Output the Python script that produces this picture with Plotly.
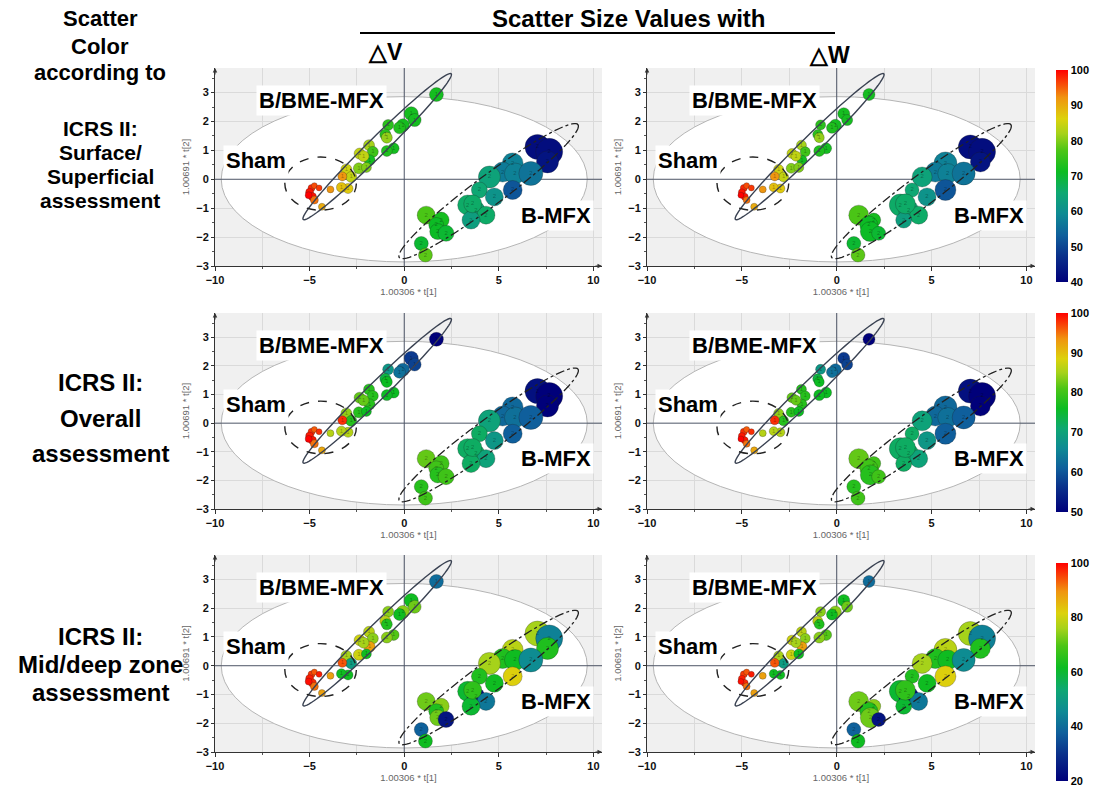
import numpy as np
import plotly.graph_objects as go

W, H = 1095, 788

# ---------------- data (PCA scores, sizes, colour scores) ----------------
# Sham group
sham_x = [-4.9, -5.0, -4.75, -4.85, -4.75, -5.05, -4.5, -4.35, -3.9]
sham_y = [-0.3, -0.45, -0.22, -0.6, -0.72, -0.55, -0.3, -0.95, -0.35]
sham_dv = [7, 8, 6, 8, 8, 7, 6, 7, 7]
sham_dw = [7, 7, 6, 7, 7, 6, 6, 7, 7]
sham_surface = [98, 99, 96, 99, 94, 100, 97, 90, 92]
sham_overall = [98, 99, 96, 99, 95, 100, 98, 92, 86]
sham_middeep = [96, 98, 94, 97, 92, 99, 98, 88, 88]

# B/BME-MFX group (label 1)
bme_x = [1.7, 0.37, 0.55, -0.07, -0.25, -0.85, -1.0, -0.92, -0.56, -0.92, -1.86,
         -1.66, -1.83, -2.36, -2.15, -2.4, -2.0, -3.06, -2.8, -3.27, -2.97, -3.32]
bme_y = [2.93, 2.27, 2.05, 1.87, 1.78, 1.88, 1.55, 1.44, 1.07, 0.98, 1.18,
         0.95, 0.66, 0.89, 0.8, 0.38, 0.41, 0.34, 0.08, 0.1, -0.32, -0.28]
bme_dv = [14, 14, 13, 13, 12, 11, 11, 11, 11, 11, 11, 11, 11, 11, 11, 11, 10, 11, 11, 9, 10, 10]
bme_dw = [12, 12, 11, 12, 11, 10, 10, 10, 11, 11, 10, 10, 10, 10, 10, 10, 10, 10, 10, 9, 9, 9]
bme_surface = [72, 72, 72, 72, 73, 74, 74, 81, 72, 73, 82, 76, 72, 84, 84, 80, 80, 85, 84, 92, 87, 88]
bme_overall = [50, 57, 58, 62, 63, 68, 74, 76, 76, 76, 78, 78, 78, 82, 82, 78, 76, 84, 78, 98, 86, 86]
bme_middeep = [40, 62, 72, 74, 62, 74, 78, 64, 70, 74, 78, 74, 88, 80, 76, 80, 62, 76, 50, 94, 62, 62]

# B-MFX group (label 2)
bmfx_x = [7.04, 7.66, 7.57, 5.73, 5.2, 5.85, 6.69, 5.73, 4.5, 3.97, 4.76, 3.35,
          3.79, 4.32, 3.53, 3.62, 1.16, 1.95, 1.69, 1.77, 2.21, 0.9, 1.12]
bmfx_y = [1.12, 0.95, 0.6, 0.55, 0.25, 0.2, 0.2, -0.37, 0.08, -0.37, -0.61, -0.89,
          -1.07, -1.24, -1.41, -0.85, -1.24, -1.41, -1.58, -1.81, -1.87, -2.22, -2.62]
bmfx_dv = [25, 27, 22, 21, 20, 21, 24, 19, 22, 16, 18, 20, 18, 18, 18, 18, 18, 16, 15, 16, 16, 14, 14]
bmfx_dw = [24, 27, 20, 23, 20, 20, 23, 21, 20, 14, 18, 22, 20, 18, 16, 20, 20, 14, 18, 20, 14, 14, 14]
bmfx_surface = [42, 42, 43, 58, 57, 58, 56, 52, 64, 65, 61, 66, 65, 66, 63, 66, 77, 72, 71, 71, 70, 70, 78]
bmfx_overall = [52, 50, 50, 62, 62, 63, 61, 61, 70, 72, 68, 72, 72, 70, 72, 72, 82, 80, 80, 78, 80, 78, 80]
bmfx_middeep = [76, 44, 64, 78, 64, 62, 46, 82, 76, 64, 62, 60, 22, 42, 60, 66, 72, 74, 64, 72, 24, 38, 62]

row_titles = [["ICRS II:", "Surface/", "Superficial", "assessment"],
              ["ICRS II:", "Overall", "assessment"],
              ["ICRS II:", "Mid/deep zone", "assessment"]]
col_titles = ["\u25b3V", "\u25b3W"]
cbar_ranges = [(40, 100, 10), (50, 100, 10), (20, 100, 20)]
x_ticks = [-10, -5, 0, 5, 10]
y_ticks = [-3, -2, -1, 0, 1, 2, 3]

# ---------------- styling ----------------
FONT = "Liberation Sans, Arial, sans-serif"
jet = [[0.0, '#00007a'], [0.12, '#0a2f8a'], [0.22, '#0f5f9c'], [0.32, '#0e8a94'],
       [0.42, '#0ea872'], [0.52, '#0cbc22'], [0.62, '#4cc516'], [0.70, '#a6d21a'],
       [0.77, '#dcd20c'], [0.87, '#f09410'], [1.0, '#ff0000']]

col_dom = [[215 / W, 602 / W], [647 / W, 1035 / W]]
row_dom = [[1 - 266 / H, 1 - 68 / H], [1 - 509 / H, 1 - 313 / H], [1 - 752 / H, 1 - 555 / H]]
cbar_geo = [(176, 212), (412.5, 199), (672, 218)]  # centre px, length px


def px(xp):
    return xp / W


def py(yp):
    return 1 - yp / H


def ellipse_path(cx, cy, ux, uy, vx, vy, n=90):
    t = np.linspace(0, 2 * np.pi, n)
    xs = cx + ux * np.cos(t) + vx * np.sin(t)
    ys = cy + uy * np.cos(t) + vy * np.sin(t)
    d = "M %.4f %.4f " % (xs[0], ys[0])
    d += " ".join("L %.4f %.4f" % (a, b) for a, b in zip(xs[1:], ys[1:]))
    return d + " Z"


xs_all = sham_x + bme_x + bmfx_x
ys_all = sham_y + bme_y + bmfx_y
labels = [""] * len(sham_x) + ["1"] * len(bme_x) + ["2"] * len(bmfx_x)
sizes = [sham_dv + bme_dv + bmfx_dv, sham_dw + bme_dw + bmfx_dw]
colors = [sham_surface + bme_surface + bmfx_surface,
          sham_overall + bme_overall + bmfx_overall,
          sham_middeep + bme_middeep + bmfx_middeep]

fig = go.Figure()
layout = dict(width=W, height=H, margin=dict(l=0, r=0, t=0, b=0, autoexpand=False),
              paper_bgcolor='white', plot_bgcolor='#f0f0f0',
              font=dict(family=FONT, color='black'), showlegend=False)
shapes, annotations = [], []


def paper_text(txt, xx, yy, size):
    annotations.append(dict(text='<b>%s</b>' % txt, x=px(xx), y=py(yy), xref='paper', yref='paper',
                            xanchor='center', yanchor='middle', showarrow=False,
                            font=dict(size=size, family=FONT, color='black')))


for r in range(3):
    ca = 'coloraxis' + ('' if r == 0 else str(r + 1))
    lo, hi, dt = cbar_ranges[r]
    cy, clen = cbar_geo[r]
    layout[ca] = dict(cmin=lo, cmax=hi, colorscale=jet,
                      colorbar=dict(x=px(1056), xanchor='left', xpad=0, ypad=0,
                                    y=py(cy), yanchor='middle', lenmode='pixels', len=clen,
                                    thickness=12, outlinewidth=0, tick0=lo, dtick=dt,
                                    ticks='', tickfont=dict(size=11, color='black', family=FONT, weight='bold')))
    for c in range(2):
        i = r * 2 + c
        s = '' if i == 0 else str(i + 1)
        xa, ya = 'x' + s, 'y' + s
        layout['xaxis' + s] = dict(domain=col_dom[c], anchor=ya, range=[-10, 10.45], automargin=False,
                                   tickvals=x_ticks, showgrid=True, gridcolor='#dadada', gridwidth=1,
                                   minor=dict(dtick=2.5, tick0=0, showgrid=True, gridcolor='#dadada',
                                              ticks='outside', ticklen=2, tickcolor='#555'),
                                   zeroline=False, showline=True, linecolor='#333', linewidth=1,
                                   ticks='outside', ticklen=4, tickcolor='#333',
                                   tickfont=dict(size=11, color='#111', family=FONT, weight='bold'),
                                   title=dict(text='1.00306 * t[1]', standoff=3,
                                              font=dict(size=9.5, color='#666', family=FONT)))
        layout['yaxis' + s] = dict(domain=row_dom[r], anchor=xa, range=[-3, 3.85], automargin=False,
                                   tickvals=y_ticks, showgrid=True, gridcolor='#dadada', gridwidth=1,
                                   minor=dict(dtick=0.5, tick0=0, ticks='outside', ticklen=2, tickcolor='#555'),
                                   zeroline=False, showline=True, linecolor='#333', linewidth=1,
                                   ticks='outside', ticklen=3, tickcolor='#333',
                                   tickfont=dict(size=11, color='#111', family=FONT, weight='bold'),
                                   title=dict(text='1.00691 * t[2]', standoff=4,
                                              font=dict(size=9.5, color='#666', family=FONT)))
        fig.add_trace(go.Scatter(
            x=xs_all, y=ys_all, xaxis=xa, yaxis=ya, mode='markers+text', text=labels,
            textposition='middle center', textfont=dict(size=6, color='rgba(0,0,0,0.35)'),
            marker=dict(size=sizes[c], sizemode='diameter', color=colors[r], coloraxis=ca,
                        opacity=1, line=dict(width=0.6, color='rgba(30,30,30,0.45)')),
            hoverinfo='skip', cliponaxis=False))

        # Hotelling T2 ellipse (white) and zero lines
        shapes.append(dict(type='circle', xref=xa, yref=ya, x0=-9.67, x1=9.67, y0=-2.86, y1=2.86,
                           fillcolor='white', line=dict(color='#b5b5b5', width=1), layer='between'))
        shapes.append(dict(type='line', xref=xa, yref=ya, x0=-10, x1=10.45, y0=0, y1=0,
                           line=dict(color='#4d5566', width=1), layer='between'))
        shapes.append(dict(type='line', xref=xa, yref=ya, x0=0, x1=0, y0=-3, y1=3.85,
                           line=dict(color='#4d5566', width=1), layer='between'))
        # group ellipses
        shapes.append(dict(type='path', xref=xa, yref=ya,
                           path=ellipse_path(-1.43, 1.13, 3.91, 2.52, 0.335, -0.222),
                           line=dict(color='#3a4252', width=1.4), layer='above'))
        shapes.append(dict(type='circle', xref=xa, yref=ya, x0=-6.31, x1=-2.53, y0=-1.07, y1=0.77,
                           line=dict(color='#222', width=1.4, dash='dash'), layer='above'))
        shapes.append(dict(type='path', xref=xa, yref=ya,
                           path=ellipse_path(4.46, -0.41, 4.72, 2.3, 0.47, -0.42),
                           line=dict(color='#222', width=1.3, dash='dashdot'), layer='above'))
        # group labels
        for txt, lx, ly in [("B/BME-MFX", -4.36, 2.73), ("Sham", -7.84, 0.66), ("B-MFX", 8.03, -1.24)]:
            annotations.append(dict(text='<b>%s</b>' % txt, x=lx, y=ly, xref=xa, yref=ya, showarrow=False,
                                    font=dict(size=22, color='black', family=FONT),
                                    bgcolor='white', borderpad=2))
        # axis arrows
        annotations.append(dict(text='', x=-10, y=3.85, xref=xa, yref=ya, ax=0, ay=8,
                                showarrow=True, arrowhead=2, arrowsize=0.9, arrowwidth=1, arrowcolor='#333'))
        annotations.append(dict(text='', x=10.45, y=-3, xref=xa, yref=ya, ax=-8, ay=0,
                                showarrow=True, arrowhead=2, arrowsize=0.9, arrowwidth=1, arrowcolor='#333'))

# left column titles
for txt, yy in [("Scatter", 18), ("Color", 46), ("according to", 73)]:
    paper_text(txt, 100, yy, 22)
row_text_y = [[128, 152, 176, 200], [382, 418, 453], [636, 664, 692]]
row_text_size = [21, 24, 24]
for r in range(3):
    for txt, yy in zip(row_titles[r], row_text_y[r]):
        paper_text(txt, 100, yy, row_text_size[r])
# top titles
paper_text("Scatter Size Values with", 628, 18, 24)
paper_text(col_titles[0], 385, 52, 23)
paper_text(col_titles[1], 829, 55, 23)
shapes.append(dict(type='line', xref='paper', yref='paper', x0=px(360), x1=px(835), y0=py(33), y1=py(33),
                   line=dict(color='black', width=2)))

layout['shapes'] = shapes
layout['annotations'] = annotations
fig.update_layout(**layout)
fig.write_html("out.html", config={'displayModeBar': False},
               post_script="document.body.style.margin='0';document.body.style.overflow='hidden';")
